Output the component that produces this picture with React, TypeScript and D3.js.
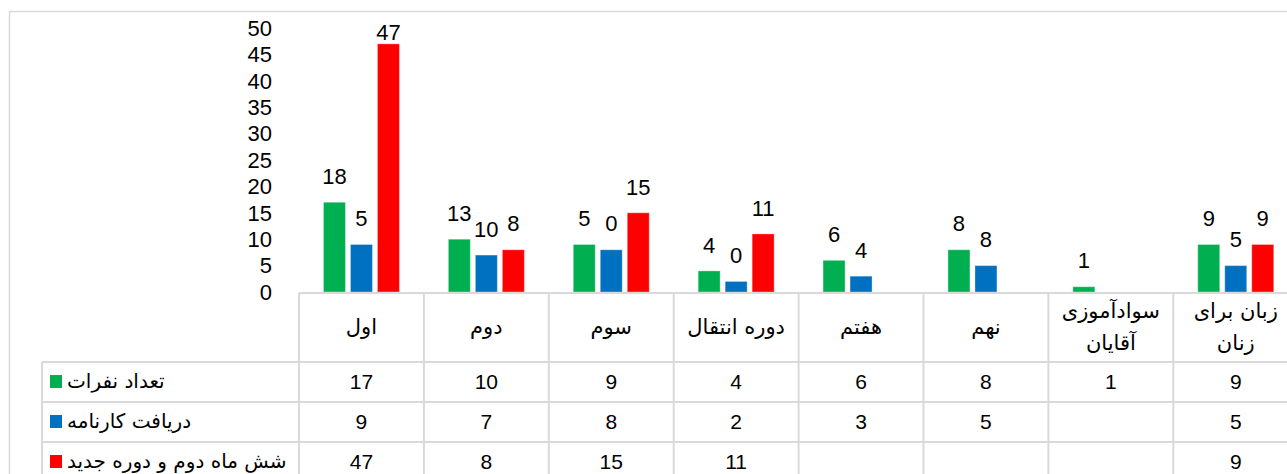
import React from "react";
import * as d3 from "d3";

// categories (persian course names); "\n" marks a line break in the table header
const categories = [
  "اول",
  "دوم",
  "سوم",
  "دوره انتقال",
  "هفتم",
  "نهم",
  "سوادآموزی\nآقایان",
  "زبان برای\nزنان",
];

const seriesNames = ["تعداد نفرات", "دریافت کارنامه", "شش ماه دوم و دوره جدید"];
const seriesColors = ["#00B050", "#0070C0", "#FF0000"];

// values shown in the data table (bar heights)
const countValues = [17, 10, 9, 4, 6, 8, 1, 9];
const reportValues = [9, 7, 8, 2, 3, 5, null, 5];
const newTermValues = [47, 8, 15, 11, null, null, null, 9];

// data labels as printed above the bars
const countLabels = [18, 13, 5, 4, 6, 8, 1, 9];
const reportLabels = [5, 10, 0, 0, 4, 8, null, 5];
const newTermLabels = [47, 8, 15, 11, null, null, null, 9];

const yTicks = [0, 5, 10, 15, 20, 25, 30, 35, 40, 45, 50];

const W = 1287;
const H = 474;

const App = () => {
  const values = [countValues, reportValues, newTermValues];
  const labels = [countLabels, reportLabels, newTermLabels];

  const x = d3
    .scaleBand<string>()
    .domain(categories)
    .range([299, 299 + 124.9 * categories.length])
    .padding(0);

  const x1 = d3
    .scaleBand<string>()
    .domain(seriesNames)
    .range([-38, 38])
    .paddingInner(0.185);

  const y = d3.scaleLinear().domain([0, 50]).range([292, 28]);

  const tableTop = 293;
  const rowLines = [362, 402, 442, 482];
  const legendLeft = 42;
  const gridColor = "#d9d9d9";
  const numFont = "'Liberation Sans', Arial, sans-serif";
  const faFont = "'DejaVu Sans', sans-serif";

  return (
    <svg
      width={W}
      height={H}
      style={{ position: "absolute", left: 0, top: 0, background: "#fff" }}
    >
      {/* chart border */}
      <rect
        x={9.5}
        y={11.5}
        width={W + 20}
        height={H + 20}
        fill="#fff"
        stroke={gridColor}
        strokeWidth={1.5}
      />

      {/* y axis labels */}
      {yTicks.map((t) => (
        <text
          key={t}
          x={272}
          y={y(t)}
          dy="0.35em"
          textAnchor="end"
          fontFamily={numFont}
          fontSize={22}
          fill="#000"
        >
          {t}
        </text>
      ))}

      {/* bars */}
      {seriesNames.map((s, si) =>
        categories.map((c, ci) => {
          const v = values[si][ci];
          if (v == null) return null;
          const bx = x(c)! + x.bandwidth() / 2 + x1(s)!;
          return (
            <rect
              key={s + c}
              x={bx}
              y={y(v)}
              width={x1.bandwidth()}
              height={y(0) - y(v)}
              fill={seriesColors[si]}
              stroke="#ffffff"
              strokeOpacity={0.35}
              strokeWidth={1}
            />
          );
        })
      )}

      {/* data labels */}
      {seriesNames.map((s, si) =>
        categories.map((c, ci) => {
          const v = values[si][ci];
          const lab = labels[si][ci];
          if (v == null || lab == null) return null;
          const cx = x(c)! + x.bandwidth() / 2 + x1(s)! + x1.bandwidth() / 2;
          const cy = Math.max(y(v) - 26, y(50) + 4);
          return (
            <text
              key={"l" + s + c}
              x={cx}
              y={cy}
              dy="0.35em"
              textAnchor="middle"
              fontFamily={numFont}
              fontSize={22}
              fill="#000"
            >
              {lab}
            </text>
          );
        })
      )}

      {/* data table grid */}
      <g stroke={gridColor} strokeWidth={2}>
        <line x1={299} x2={W + 20} y1={tableTop} y2={tableTop} />
        {rowLines.map((ry) => (
          <line key={ry} x1={legendLeft} x2={W + 20} y1={ry} y2={ry} />
        ))}
        <line x1={legendLeft} x2={legendLeft} y1={rowLines[0]} y2={H + 20} />
        {categories.map((c) => (
          <line key={c} x1={x(c)!} x2={x(c)!} y1={tableTop} y2={H + 20} />
        ))}
        <line
          x1={x.range()[1]}
          x2={x.range()[1]}
          y1={tableTop}
          y2={H + 20}
        />
      </g>

      {/* category header */}
      {categories.map((c) => {
        const lines = c.split("\n");
        const cx = x(c)! + x.bandwidth() / 2;
        const mid = (tableTop + rowLines[0]) / 2;
        const lh = 32;
        return (
          <text
            key={"h" + c}
            x={cx}
            textAnchor="middle"
            fontFamily={faFont}
            fontSize={21}
            fill="#000"
          >
            {lines.map((ln, i) => (
              <tspan
                key={i}
                x={cx}
                y={mid + (i - (lines.length - 1) / 2) * lh}
                dy="0.3em"
              >
                {ln}
              </tspan>
            ))}
          </text>
        );
      })}

      {/* table rows */}
      {seriesNames.map((s, si) => {
        const top = rowLines[si];
        const cy = top + (rowLines[si + 1] - top) / 2;
        return (
          <g key={"row" + s}>
            <rect
              x={50}
              y={cy - 7}
              width={12}
              height={13}
              fill={seriesColors[si]}
            />
            <text
              x={67}
              y={cy}
              dy="0.3em"
              direction="rtl"
              textAnchor="end"
              fontFamily={faFont}
              fontSize={20}
              fill="#000"
            >
              {s}
            </text>
            {categories.map((c, ci) => {
              const v = values[si][ci];
              if (v == null) return null;
              return (
                <text
                  key={c}
                  x={x(c)! + x.bandwidth() / 2}
                  y={cy}
                  dy="0.35em"
                  textAnchor="middle"
                  fontFamily={numFont}
                  fontSize={21}
                  fill="#000"
                >
                  {v}
                </text>
              );
            })}
          </g>
        );
      })}
    </svg>
  );
};

export default App;
